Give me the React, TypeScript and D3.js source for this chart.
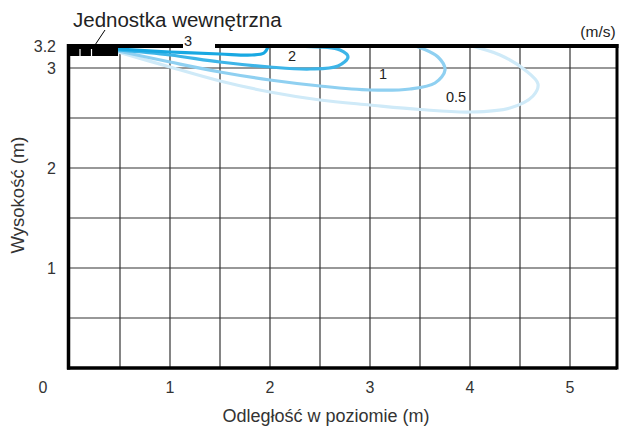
import React from "react";
import * as d3 from "d3";

const xTicks = [1, 2, 3, 4, 5];
const yTicks = [1, 2, 3];
const gridX = [0.5, 1, 1.5, 2, 2.5, 3, 3.5, 4, 4.5, 5];
const gridY = [0.5, 1, 1.5, 2, 2.5, 3];

type P = [number, number];
const curve3: P[] = [[0.48, 3.19], [1.0, 3.16], [1.5, 3.14], [1.82, 3.13], [1.94, 3.15], [1.98, 3.21]];
const curve2: P[] = [[0.48, 3.18], [1.0, 3.13], [1.5, 3.06], [2.0, 3.01], [2.4, 2.99], [2.68, 3.02], [2.78, 3.11], [2.7, 3.18], [2.35, 3.215]];
const curve1: P[] = [[0.48, 3.17], [1.0, 3.06], [1.5, 2.96], [2.0, 2.88], [2.5, 2.82], [3.0, 2.78], [3.4, 2.79], [3.65, 2.85], [3.75, 2.98], [3.68, 3.11], [3.47, 3.215]];
const curve05: P[] = [[0.48, 3.16], [1.0, 3.01], [1.5, 2.87], [2.0, 2.76], [2.5, 2.68], [3.0, 2.63], [3.5, 2.585], [4.0, 2.56], [4.4, 2.6], [4.63, 2.72], [4.68, 2.84], [4.55, 2.98], [4.3, 3.13], [4.03, 3.215]];

const series = [
  { name: "0.5", data: curve05, color: "#cfeaf8", label: [3.86, 2.66] as P },
  { name: "1", data: curve1, color: "#8fd0f1", label: [3.13, 2.89] as P },
  { name: "2", data: curve2, color: "#3db5e8", label: [2.22, 3.07] as P },
  { name: "3", data: curve3, color: "#18a8e2", label: [1.18, 3.22] as P },
];

const W = 619, H = 429;
const left = 70, right = 617, top = 48, bottom = 368;

export default function App() {
  const x = d3.scaleLinear().domain([0, 5.47]).range([left, right]);
  const y = d3.scaleLinear().domain([0, 3.2]).range([bottom, top]);
  const line = d3.line<P>().x(d => x(d[0])).y(d => y(d[1])).curve(d3.curveCatmullRom.alpha(0.5));
  const font = "'Liberation Sans', Arial, sans-serif";
  return (
    <svg width={W} height={H} style={{ position: "absolute", left: 0, top: 0, background: "#fff" }} fontFamily={font}>
      <defs>
        <clipPath id="plot">
          <rect x={left} y={top} width={right - left} height={bottom - top} />
        </clipPath>
      </defs>
      {gridX.map(v => (
        <line key={"gx" + v} x1={x(v)} x2={x(v)} y1={top} y2={bottom} stroke="#333" strokeWidth={1.2} />
      ))}
      {gridY.map(v => (
        <line key={"gy" + v} x1={left} x2={right} y1={y(v)} y2={y(v)} stroke="#333" strokeWidth={1.2} />
      ))}
      <g clipPath="url(#plot)">
        {series.map(s => (
          <path key={s.name} d={line(s.data) || ""} fill="none" stroke={s.color} strokeWidth={3.2} strokeLinecap="round" />
        ))}
      </g>
      {/* borders */}
      <line x1={left - 1.5} x2={left - 1.5} y1={top - 4} y2={bottom + 1.5} stroke="#000" strokeWidth={3.5} />
      <line x1={left - 3} x2={right} y1={bottom} y2={bottom} stroke="#000" strokeWidth={3.5} />
      <line x1={right} x2={right} y1={top - 4} y2={bottom + 1.5} stroke="#000" strokeWidth={3} />
      <line x1={left - 3} x2={x(1.13)} y1={top - 2} y2={top - 2} stroke="#000" strokeWidth={4} />
      <line x1={x(1.45)} x2={right + 1.5} y1={top - 2} y2={top - 2} stroke="#000" strokeWidth={4} />
      {/* indoor unit */}
      <rect x={left - 3} y={top - 4} width={x(0.48) - left + 3} height={12} fill="#000" />
      <line x1={80} x2={80} y1={top + 1} y2={top + 8} stroke="#fff" strokeWidth={1.2} />
      <line x1={91.5} x2={91.5} y1={top + 1} y2={top + 8} stroke="#fff" strokeWidth={1.2} />
      <line x1={95} x2={105} y1={top - 3} y2={30} stroke="#000" strokeWidth={1} />
      <text x={73} y={27} fontSize={20.5} fill="#222">Jednostka wewnętrzna</text>
      <text x={598} y={37} fontSize={15.5} fill="#222" textAnchor="middle">(m/s)</text>
      {/* curve labels */}
      {series.map(s => (
        <text key={"l" + s.name} x={x(s.label[0])} y={y(s.label[1])} fontSize={14.5} fill="#222" textAnchor="middle">{s.name}</text>
      ))}
      {/* axis tick labels */}
      {xTicks.map(v => (
        <text key={"xt" + v} x={x(v)} y={393} fontSize={16} fill="#333" textAnchor="middle">{v}</text>
      ))}
      <text x={43} y={393} fontSize={16} fill="#333" textAnchor="middle">0</text>
      {yTicks.map(v => (
        <text key={"yt" + v} x={56} y={y(v) + 6} fontSize={16} fill="#333" textAnchor="end">{v}</text>
      ))}
      <text x={56} y={y(3.2) + 4} fontSize={16} fill="#333" textAnchor="end">3.2</text>
      <text x={326} y={422} fontSize={18} fill="#333" textAnchor="middle">Odległość w poziomie (m)</text>
      <text transform={`translate(24,195) rotate(-90)`} fontSize={18.5} fill="#333" textAnchor="middle">Wysokość (m)</text>
    </svg>
  );
}
